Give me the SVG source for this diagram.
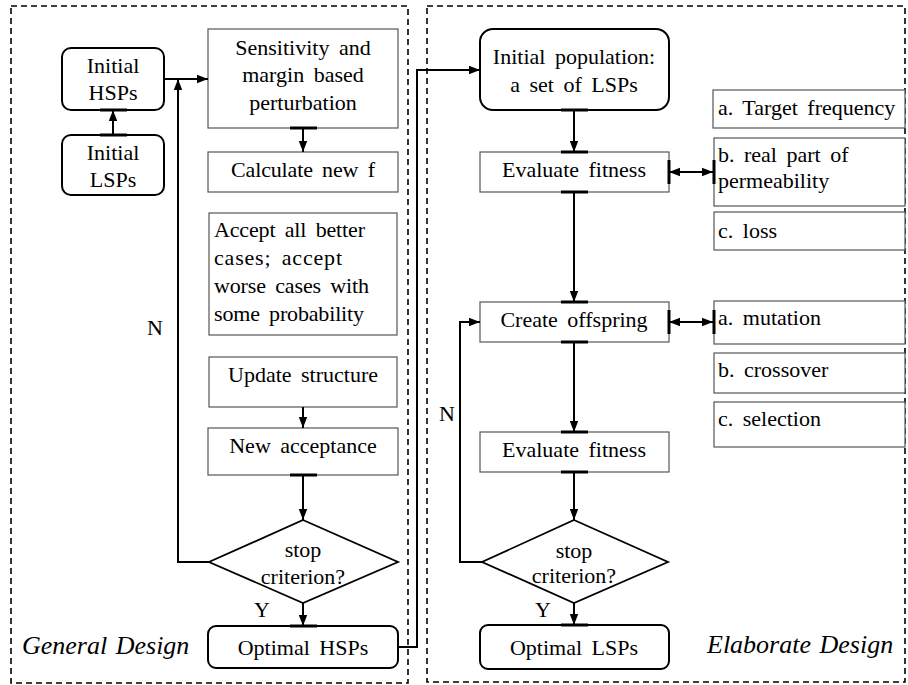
<svg xmlns="http://www.w3.org/2000/svg" width="908" height="685" viewBox="0 0 908 685">
<style>
  text { font-family: "Liberation Serif", "Times New Roman", serif; font-size: 22px; fill: #000; word-spacing: 4px; }
  .c { text-anchor: middle; }
  .it { font-style: italic; font-size: 26px; word-spacing: 2px; }
  .frame { fill: none; stroke: #000; stroke-width: 1.6; stroke-dasharray: 6 4; }
  .box { fill: #fff; stroke: #555; stroke-width: 1.2; }
  .rbox { fill: #fff; stroke: #000; stroke-width: 2; }
  .dia { fill: #fff; stroke: #000; stroke-width: 1.8; }
  .con { fill: none; stroke: #000; stroke-width: 2; }
  .tick { stroke: #000; stroke-width: 3; }
</style>
<defs>
  <marker id="ah" markerUnits="userSpaceOnUse" markerWidth="12" markerHeight="10" refX="11" refY="5" orient="auto-start-reverse">
    <path d="M0,0.8 L11,5 L0,9.2 Z" fill="#000"/>
  </marker>
</defs>
<rect fill="#fff" x="0" y="0" width="908" height="685"/>
<g id="frames">
  <rect class="frame" x="11" y="6" width="397" height="677"/>
  <rect class="frame" x="427" y="6" width="478" height="676"/>
</g>
<g id="left-column">
  <g id="initial-hsps"><rect class="rbox" x="62" y="48" width="102" height="62" rx="9"/><text class="c" x="113" y="73">Initial</text><text class="c" x="113" y="100">HSPs</text></g>
  <g id="initial-lsps"><rect class="rbox" x="62" y="135" width="102" height="60" rx="9"/><text class="c" x="113" y="160">Initial</text><text class="c" x="113" y="187">LSPs</text></g>
  <g id="sensitivity"><rect class="box" x="208" y="29" width="190" height="99"/><text class="c" x="303" y="55">Sensitivity and</text><text class="c" x="303" y="82">margin based</text><text class="c" x="303" y="110">perturbation</text></g>
  <g id="calc"><rect class="box" x="208" y="152" width="190" height="40"/><text class="c" x="303" y="177" textLength="144" lengthAdjust="spacing">Calculate new f</text></g>
  <g id="accept"><rect class="box" x="209" y="213" width="188" height="122"/><text x="214" y="237" textLength="151" lengthAdjust="spacing">Accept all better</text><text x="214" y="265" textLength="128" lengthAdjust="spacing">cases; accept</text><text x="214" y="293" textLength="155" lengthAdjust="spacing">worse cases with</text><text x="214" y="321" textLength="150" lengthAdjust="spacing">some probability</text></g>
  <g id="update"><rect class="box" x="209" y="357" width="188" height="50"/><text class="c" x="303" y="382">Update structure</text></g>
  <g id="new-acceptance"><rect class="box" x="208" y="428" width="190" height="47"/><text class="c" x="303" y="453">New acceptance</text></g>
  <g id="stop-left"><polygon class="dia" points="303,520 398,562 303,603 209,562"/><text class="c" x="303" y="557">stop</text><text class="c" x="303" y="584">criterion?</text></g>
  <g id="optimal-hsps"><rect class="rbox" x="208" y="626" width="190" height="42" rx="8"/><text class="c" x="303" y="655">Optimal HSPs</text></g>
  <g id="general-design"><text class="it" x="22" y="654">General Design</text></g>
</g>
<g id="right-column">
  <g id="initial-population"><rect class="rbox" x="480" y="29" width="189" height="81" rx="13"/><text class="c" x="574" y="64">Initial population:</text><text class="c" x="574" y="92">a set of LSPs</text></g>
  <g id="evaluate1"><rect class="box" x="480" y="152" width="189" height="40"/><text class="c" x="574" y="177">Evaluate fitness</text></g>
  <g id="target-frequency"><rect class="box" x="713" y="90" width="192" height="38"/><text x="718" y="115">a. Target frequency</text></g>
  <g id="real-part"><rect class="box" x="714" y="138" width="191" height="68"/><text x="718" y="162">b. real part of</text><text x="718" y="188">permeability</text></g>
  <g id="loss"><rect class="box" x="714" y="212" width="191" height="38"/><text x="718" y="238">c. loss</text></g>
  <g id="create-offspring"><rect class="box" x="480" y="302" width="189" height="40"/><text class="c" x="574" y="327">Create offspring</text></g>
  <g id="mutation"><rect class="box" x="714" y="301" width="191" height="43"/><text x="718" y="325">a. mutation</text></g>
  <g id="crossover"><rect class="box" x="714" y="353" width="191" height="40"/><text x="718" y="377">b. crossover</text></g>
  <g id="selection"><rect class="box" x="714" y="402" width="191" height="45"/><text x="718" y="426">c. selection</text></g>
  <g id="evaluate2"><rect class="box" x="480" y="432" width="189" height="40"/><text class="c" x="574" y="457">Evaluate fitness</text></g>
  <g id="stop-right"><polygon class="dia" points="574,520 668,562 574,603 482,562"/><text class="c" x="574" y="558">stop</text><text class="c" x="574" y="583">criterion?</text></g>
  <g id="optimal-lsps"><rect class="rbox" x="480" y="625" width="189" height="44" rx="8"/><text class="c" x="574" y="655">Optimal LSPs</text></g>
  <g id="elaborate-design"><text class="it" x="707" y="653">Elaborate Design</text></g>
</g>
<g id="connectors">
  <line class="con" x1="113" y1="135" x2="113" y2="110" marker-end="url(#ah)"/>
  <line class="con" x1="164" y1="79" x2="208" y2="79" marker-end="url(#ah)"/>
  <polyline class="con" points="209,562 178,562 178,79" marker-end="url(#ah)"/>
  <line class="con" x1="303" y1="128" x2="303" y2="152" marker-end="url(#ah)"/>
  <line class="con" x1="303" y1="407" x2="303" y2="428" marker-end="url(#ah)"/>
  <line class="con" x1="303" y1="475" x2="303" y2="520" marker-end="url(#ah)"/>
  <line class="con" x1="303" y1="603" x2="303" y2="626" marker-end="url(#ah)"/>
  <polyline class="con" points="398,647 417,647 417,70 480,70" marker-end="url(#ah)"/>
  <line class="con" x1="574" y1="110" x2="574" y2="152" marker-end="url(#ah)"/>
  <line class="con" x1="669" y1="172" x2="713" y2="172" marker-start="url(#ah)" marker-end="url(#ah)"/>
  <line class="con" x1="574" y1="192" x2="574" y2="302" marker-end="url(#ah)"/>
  <line class="con" x1="669" y1="322" x2="713" y2="322" marker-start="url(#ah)" marker-end="url(#ah)"/>
  <line class="con" x1="574" y1="342" x2="574" y2="432" marker-end="url(#ah)"/>
  <line class="con" x1="574" y1="472" x2="574" y2="520" marker-end="url(#ah)"/>
  <line class="con" x1="574" y1="603" x2="574" y2="625" marker-end="url(#ah)"/>
  <polyline class="con" points="482,562 460,562 460,322 480,322" marker-end="url(#ah)"/>
  <g id="ticks">
    <line class="tick" x1="100" y1="110" x2="127" y2="110"/>
    <line class="tick" x1="100" y1="135" x2="127" y2="135"/>
    <line class="tick" x1="290" y1="128" x2="317" y2="128"/>
    <line class="tick" x1="290" y1="475" x2="317" y2="475"/>
    <line class="tick" x1="290" y1="626" x2="317" y2="626"/>
    <line class="tick" x1="561" y1="110" x2="588" y2="110"/>
    <line class="tick" x1="561" y1="152" x2="588" y2="152"/>
    <line class="tick" x1="561" y1="192" x2="588" y2="192"/>
    <line class="tick" x1="561" y1="302" x2="588" y2="302"/>
    <line class="tick" x1="561" y1="342" x2="588" y2="342"/>
    <line class="tick" x1="561" y1="432" x2="588" y2="432"/>
    <line class="tick" x1="561" y1="472" x2="588" y2="472"/>
    <line class="tick" x1="561" y1="625" x2="588" y2="625"/>
    <line class="tick" x1="669" y1="160" x2="669" y2="184"/>
    <line class="tick" x1="714" y1="160" x2="714" y2="184"/>
    <line class="tick" x1="669" y1="310" x2="669" y2="334"/>
    <line class="tick" x1="714" y1="310" x2="714" y2="334"/>
  </g>
  <text class="c" x="155" y="335">N</text>
  <text class="c" x="262" y="617">Y</text>
  <text class="c" x="447" y="421">N</text>
  <text class="c" x="543" y="617">Y</text>
</g>
</svg>
